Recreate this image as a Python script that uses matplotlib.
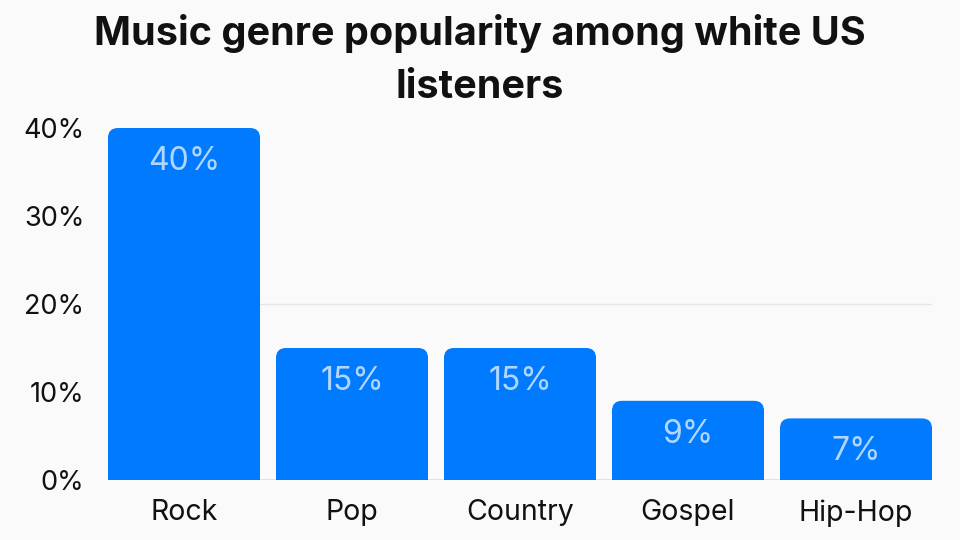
import numpy as np
import matplotlib.pyplot as plt
from matplotlib.patches import FancyBboxPatch, Rectangle

### Data
genres = ['Rock', 'Pop', 'Country', 'Gospel', 'Hip-Hop']
shares = [40, 15, 15, 9, 7]
y_ticks = [0, 10, 20, 30, 40]
title = 'Music genre popularity among white US\nlisteners'

BLUE = '#007AFF'
BG = '#FAFAFA'
plt.rcParams['font.family'] = ['Inter', 'DejaVu Sans']

fig = plt.figure(figsize=(9.6, 5.4), dpi=100, facecolor=BG)
ax = fig.add_axes([108/960, 60/540, 824/960, 352/540], facecolor=BG)

BAR_W = 0.905
x = np.arange(len(genres))
ax.set_xlim(-BAR_W/2, len(genres) - 1 + BAR_W/2)
ax.set_ylim(0, 40)

# grid line + baseline
ax.axhline(20, color='#E6E6E6', lw=1, zorder=0)
ax.axhline(0, color='#DDDDDD', lw=1.2, zorder=0)

# pixels per data unit, used to keep corners round
px_x = 824 / (len(genres) - 1 + BAR_W)
px_y = 352 / 40
radius_px = 10
r_x = radius_px / px_x
aspect = px_x / px_y

for xi, v in zip(x, shares):
    left = xi - BAR_W/2
    top = FancyBboxPatch((left, 0), BAR_W, v,
                         boxstyle=f'round,pad=0,rounding_size={r_x}',
                         mutation_aspect=aspect, fc=BLUE, ec='none', zorder=2)
    ax.add_patch(top)
    # square off the bottom corners
    ax.add_patch(Rectangle((left, 0), BAR_W, v/2, fc=BLUE, ec='none', zorder=2))
    ax.annotate(f'{v}%', (xi, v), xytext=(0, -24), textcoords='offset points',
                ha='center', va='center', fontsize=23,
                color='white', alpha=0.7, zorder=3)

ax.set_xticks(x)
ax.set_xticklabels(genres, fontsize=20.5, color='#111111')
ax.set_yticks(y_ticks)
ax.set_yticklabels([f'{t}%' for t in y_ticks], fontsize=19.5, color='#111111')
ax.tick_params(axis='both', length=0)
ax.tick_params(axis='x', pad=14)
ax.tick_params(axis='y', pad=17)
for s in ax.spines.values():
    s.set_visible(False)

fig.text(0.5, 1 - 60/540, title, ha='center', va='center', fontsize=28.5,
         fontweight='bold', color='#111111', linespacing=1.55)

fig.savefig('out.png', dpi=100, facecolor=BG)
